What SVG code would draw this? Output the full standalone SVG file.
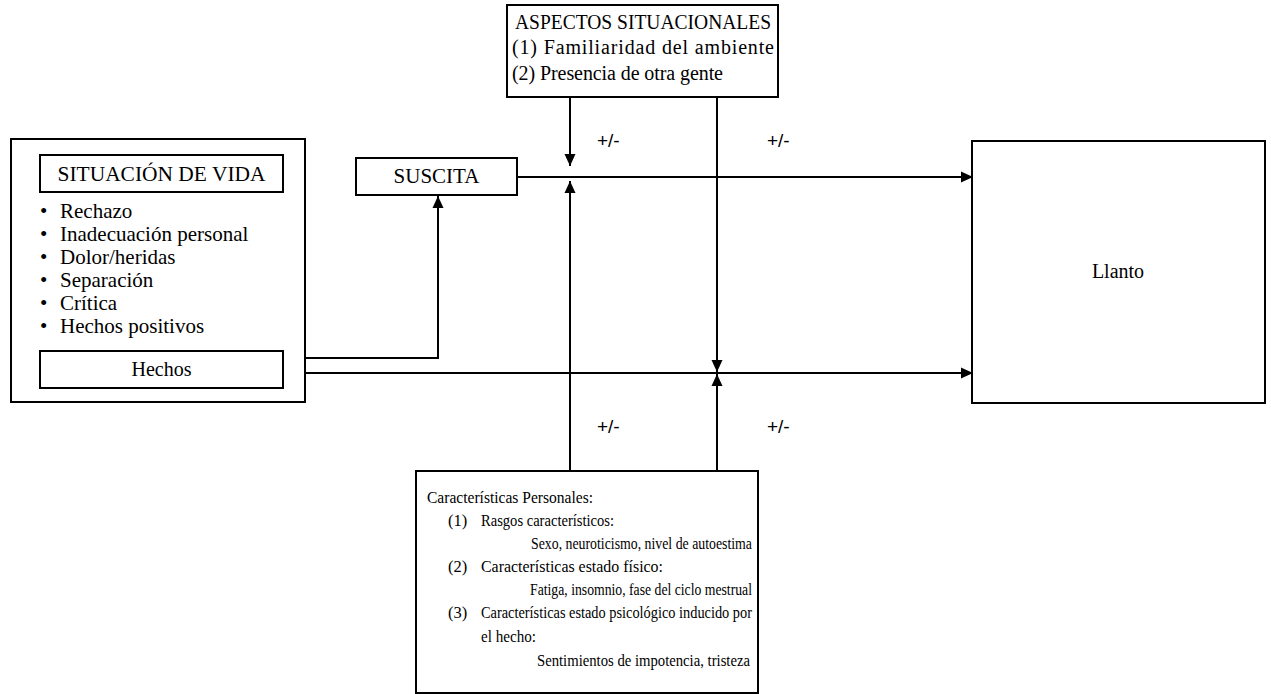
<svg xmlns="http://www.w3.org/2000/svg" width="1271" height="694" viewBox="0 0 1271 694">
<defs>
<marker id="ah" markerUnits="userSpaceOnUse" markerWidth="12" markerHeight="12" refX="12" refY="6" orient="auto">
<path d="M0,0.5 L12,6 L0,11.5 z" fill="#000"/>
</marker>
<style>
.box{fill:#fff;stroke:#000;stroke-width:2}
.t{font-family:"Liberation Serif","Times New Roman",serif;fill:#000}
.big{font-size:20px}
.sm{font-size:16.5px}
.pm{font-family:"Liberation Sans",Arial,sans-serif;font-size:19px;fill:#000}
.ln{fill:none;stroke:#000;stroke-width:2}
</style>
</defs>
<rect width="1271" height="694" fill="#fff"/>
<g id="connectors">
<line class="ln" x1="570" y1="97" x2="570" y2="166" marker-end="url(#ah)"/>
<line class="ln" x1="570" y1="471" x2="570" y2="181" marker-end="url(#ah)"/>
<line class="ln" x1="717" y1="97" x2="717" y2="372" marker-end="url(#ah)"/>
<line class="ln" x1="717" y1="471" x2="717" y2="374" marker-end="url(#ah)"/>
<line class="ln" x1="517" y1="177" x2="973" y2="177" marker-end="url(#ah)"/>
<polyline class="ln" points="283,358 438,358 438,196" marker-end="url(#ah)"/>
<line class="ln" x1="283" y1="373" x2="973" y2="373" marker-end="url(#ah)"/>
<text class="pm" x="597" y="147">+/-</text>
<text class="pm" x="767" y="147">+/-</text>
<text class="pm" x="597" y="433">+/-</text>
<text class="pm" x="767" y="433">+/-</text>
</g>
<g id="situacion">
<rect class="box" x="11" y="139" width="294" height="263"/>
<rect class="box" x="40" y="155" width="243" height="37"/>
<text class="t" x="161.5" y="181" text-anchor="middle" font-size="21" textLength="208" lengthAdjust="spacingAndGlyphs">SITUACIÓN DE VIDA</text>
<g class="t" font-size="21">
<text x="40" y="218">•</text><text x="60" y="218">Rechazo</text>
<text x="40" y="241">•</text><text x="60" y="241">Inadecuación personal</text>
<text x="40" y="264">•</text><text x="60" y="264">Dolor/heridas</text>
<text x="40" y="287">•</text><text x="60" y="287">Separación</text>
<text x="40" y="310">•</text><text x="60" y="310">Crítica</text>
<text x="40" y="333">•</text><text x="60" y="333">Hechos positivos</text>
</g>
</g>
<g id="hechos">
<rect class="box" x="40" y="351" width="243" height="37"/>
<text class="t big" x="161.5" y="376" text-anchor="middle">Hechos</text>
</g>
<g id="suscita">
<rect class="box" x="356" y="158" width="161" height="37"/>
<text class="t" x="436.5" y="183" text-anchor="middle" font-size="21">SUSCITA</text>
</g>
<g id="aspectos">
<rect class="box" x="507" y="5" width="271" height="92"/>
<text class="t big" x="515" y="29" textLength="256" lengthAdjust="spacingAndGlyphs">ASPECTOS SITUACIONALES</text>
<text class="t big" x="512" y="54" textLength="262" lengthAdjust="spacing">(1) Familiaridad del ambiente</text>
<text class="t big" x="512" y="80" textLength="211" lengthAdjust="spacing">(2) Presencia de otra gente</text>
</g>
<g id="llanto">
<rect class="box" x="972" y="141" width="293" height="262"/>
<text class="t big" x="1118" y="278" text-anchor="middle">Llanto</text>
</g>
<g id="caracteristicas">
<rect class="box" x="416" y="471" width="342" height="222"/>
<g class="t sm">
<text x="427" y="503" textLength="166" lengthAdjust="spacingAndGlyphs">Características Personales:</text>
<text x="448" y="526">(1)</text><text x="481" y="526" textLength="133" lengthAdjust="spacingAndGlyphs">Rasgos característicos:</text>
<text x="531" y="549" textLength="221" lengthAdjust="spacingAndGlyphs">Sexo, neuroticismo, nivel de autoestima</text>
<text x="448" y="572">(2)</text><text x="481" y="572" textLength="182" lengthAdjust="spacingAndGlyphs">Características estado físico:</text>
<text x="530" y="595" textLength="222" lengthAdjust="spacingAndGlyphs">Fatiga, insomnio, fase del ciclo mestrual</text>
<text x="448" y="618">(3)</text><text x="481" y="618" textLength="271" lengthAdjust="spacingAndGlyphs">Características estado psicológico inducido por</text>
<text x="481" y="642" textLength="55" lengthAdjust="spacingAndGlyphs">el hecho:</text>
<text x="537" y="666" textLength="213" lengthAdjust="spacingAndGlyphs">Sentimientos de impotencia, tristeza</text>
</g>
</g>
</svg>
